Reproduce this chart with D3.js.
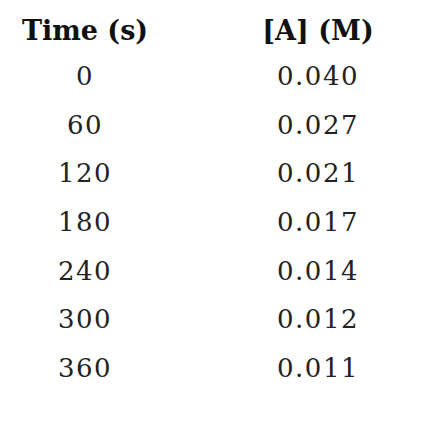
<!DOCTYPE html>
<html><head><meta charset="utf-8">
<script src="https://cdn.jsdelivr.net/npm/d3@7"></script>
<style>body{margin:0;background:#fff}</style>
</head><body>
<script>
const headers = ["Time (s)", "[A] (M)"];
const times = ["0", "60", "120", "180", "240", "300", "360"];
const conc = ["0.040", "0.027", "0.021", "0.017", "0.014", "0.012", "0.011"];

const W = 438, H = 424;
const svg = d3.select("body").append("svg").attr("width", W).attr("height", H);
const x = d3.scalePoint().domain([0, 1]).range([85, 318]);
const y = d3.scalePoint().domain(d3.range(times.length)).range([76, 368]);
const font = "'DejaVu Serif','Liberation Serif',serif";

svg.selectAll("text.h").data(headers).join("text")
  .attr("class", "h").attr("x", (d, i) => x(i)).attr("y", 30)
  .attr("text-anchor", "middle").attr("dominant-baseline", "central")
  .attr("font-family", font).attr("font-weight", "bold").attr("font-size", 27)
  .attr("fill", "#111").text(d => d);

const cols = [times, conc];
cols.forEach((col, ci) => {
  svg.selectAll("text.c" + ci).data(col).join("text")
    .attr("class", "c" + ci).attr("x", x(ci)).attr("y", (d, i) => y(i))
    .attr("text-anchor", "middle").attr("dominant-baseline", "central")
    .attr("font-family", font).attr("font-size", 26).attr("letter-spacing", 1.5)
    .attr("fill", "#222").text(d => d);
});
</script>
</body></html>
